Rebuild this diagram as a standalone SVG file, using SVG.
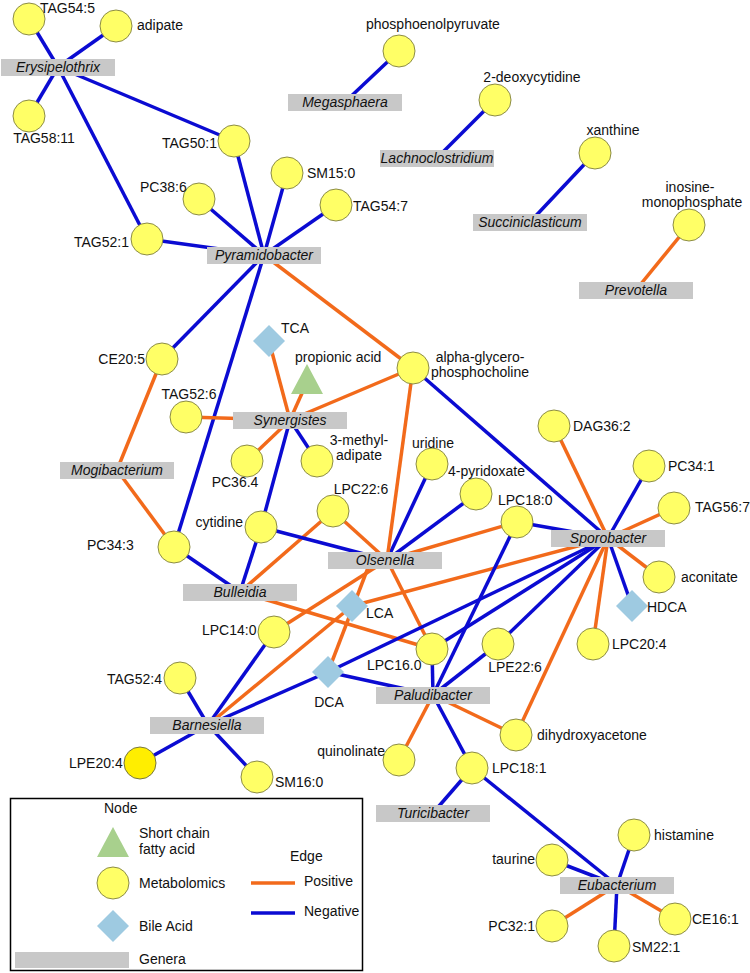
<svg xmlns="http://www.w3.org/2000/svg" width="750" height="973" viewBox="0 0 750 973">
<style>
text{font-family:"Liberation Sans",Arial,sans-serif;font-size:14px;fill:#111}
.gl{font-style:italic;text-anchor:middle}
.m{text-anchor:middle}
.e{text-anchor:end}
.met{fill:#ffff66;stroke:#8c8c46;stroke-width:1}
.met2{fill:#ffee00;stroke:#777740;stroke-width:1}
.ba{fill:#9ecae1}
.sc{fill:#a8d08d}
.gen{fill:#c8c8c8}
#edges line,#legend line{stroke-width:3.5}
.pos{stroke:#f26a1b}
.neg{stroke:#0b0bd2}
</style>
<rect width="750" height="973" fill="#fff"/>
<g id="edges">
<line class="neg" x1="58" y1="67" x2="29" y2="19"/>
<line class="neg" x1="58" y1="67" x2="116" y2="26"/>
<line class="neg" x1="58" y1="67" x2="29" y2="116"/>
<line class="neg" x1="58" y1="67" x2="234" y2="141"/>
<line class="neg" x1="58" y1="67" x2="147" y2="239"/>
<line class="neg" x1="264" y1="255" x2="234" y2="141"/>
<line class="neg" x1="264" y1="255" x2="199" y2="199"/>
<line class="neg" x1="264" y1="255" x2="287" y2="173"/>
<line class="neg" x1="264" y1="255" x2="336" y2="205"/>
<line class="neg" x1="264" y1="255" x2="147" y2="239"/>
<line class="neg" x1="264" y1="255" x2="162" y2="359"/>
<line class="neg" x1="264" y1="255" x2="174" y2="547"/>
<line class="pos" x1="264" y1="255" x2="413" y2="368"/>
<line class="neg" x1="345" y1="102" x2="399" y2="51"/>
<line class="neg" x1="437" y1="158" x2="495" y2="100"/>
<line class="neg" x1="530" y1="222" x2="595" y2="153"/>
<line class="pos" x1="636" y1="290" x2="689" y2="225"/>
<line class="pos" x1="117" y1="470" x2="162" y2="359"/>
<line class="pos" x1="117" y1="470" x2="174" y2="547"/>
<line class="pos" x1="290" y1="420" x2="269" y2="341"/>
<line class="pos" x1="290" y1="420" x2="307" y2="382"/>
<line class="pos" x1="290" y1="420" x2="186" y2="417"/>
<line class="pos" x1="290" y1="420" x2="247" y2="461"/>
<line class="pos" x1="290" y1="420" x2="413" y2="368"/>
<line class="neg" x1="290" y1="420" x2="317" y2="461"/>
<line class="neg" x1="290" y1="420" x2="261" y2="527"/>
<line class="neg" x1="240" y1="592" x2="261" y2="527"/>
<line class="neg" x1="240" y1="592" x2="174" y2="547"/>
<line class="pos" x1="240" y1="592" x2="333" y2="511"/>
<line class="pos" x1="240" y1="592" x2="432" y2="649"/>
<line class="neg" x1="387" y1="560" x2="261" y2="527"/>
<line class="neg" x1="387" y1="560" x2="432" y2="464"/>
<line class="neg" x1="387" y1="560" x2="476" y2="494"/>
<line class="pos" x1="387" y1="560" x2="333" y2="511"/>
<line class="pos" x1="387" y1="560" x2="517" y2="522"/>
<line class="pos" x1="387" y1="560" x2="413" y2="368"/>
<line class="pos" x1="387" y1="560" x2="274" y2="632"/>
<line class="pos" x1="387" y1="560" x2="432" y2="649"/>
<line class="pos" x1="371" y1="560" x2="328" y2="672"/>
<line class="neg" x1="608" y1="538" x2="413" y2="368"/>
<line class="neg" x1="608" y1="538" x2="649" y2="466"/>
<line class="neg" x1="608" y1="538" x2="632" y2="606"/>
<line class="neg" x1="608" y1="538" x2="498" y2="644"/>
<line class="neg" x1="608" y1="538" x2="432" y2="649"/>
<line class="neg" x1="608" y1="538" x2="517" y2="522"/>
<line class="neg" x1="608" y1="538" x2="328" y2="672"/>
<line class="pos" x1="608" y1="538" x2="554" y2="426"/>
<line class="pos" x1="608" y1="538" x2="674" y2="508"/>
<line class="pos" x1="608" y1="538" x2="659" y2="577"/>
<line class="pos" x1="608" y1="538" x2="593" y2="644"/>
<line class="pos" x1="608" y1="538" x2="516" y2="735"/>
<line class="pos" x1="608" y1="538" x2="352" y2="606"/>
<line class="neg" x1="208" y1="725" x2="180" y2="678"/>
<line class="neg" x1="208" y1="725" x2="274" y2="632"/>
<line class="neg" x1="208" y1="725" x2="328" y2="672"/>
<line class="neg" x1="208" y1="725" x2="140" y2="763"/>
<line class="neg" x1="208" y1="725" x2="257" y2="777"/>
<line class="pos" x1="208" y1="725" x2="352" y2="606"/>
<line class="neg" x1="433" y1="695" x2="432" y2="649"/>
<line class="neg" x1="433" y1="695" x2="328" y2="672"/>
<line class="neg" x1="433" y1="695" x2="517" y2="522"/>
<line class="neg" x1="433" y1="695" x2="498" y2="644"/>
<line class="neg" x1="433" y1="695" x2="472" y2="768"/>
<line class="pos" x1="433" y1="695" x2="399" y2="760"/>
<line class="pos" x1="433" y1="695" x2="516" y2="735"/>
<line class="neg" x1="433" y1="813" x2="472" y2="768"/>
<line class="neg" x1="617" y1="885" x2="472" y2="768"/>
<line class="neg" x1="617" y1="885" x2="634" y2="835"/>
<line class="neg" x1="617" y1="885" x2="552" y2="860"/>
<line class="neg" x1="617" y1="885" x2="614" y2="946"/>
<line class="pos" x1="617" y1="885" x2="552" y2="926"/>
<line class="pos" x1="617" y1="885" x2="675" y2="919"/>
</g>
<g id="genera">
<g id="g-erysipelothrix"><rect class="gen" x="1" y="59" width="114" height="17"/><text class="gl" x="58" y="72">Erysipelothrix</text></g>
<g id="g-megasphaera"><rect class="gen" x="288" y="94" width="114" height="17"/><text class="gl" x="345" y="107">Megasphaera</text></g>
<g id="g-lachnoclostridium"><rect class="gen" x="380" y="150" width="114" height="17"/><text class="gl" x="437" y="163">Lachnoclostridium</text></g>
<g id="g-succiniclasticum"><rect class="gen" x="473" y="214" width="114" height="17"/><text class="gl" x="530" y="227">Succiniclasticum</text></g>
<g id="g-pyramidobacter"><rect class="gen" x="207" y="247" width="114" height="17"/><text class="gl" x="264" y="260">Pyramidobacter</text></g>
<g id="g-prevotella"><rect class="gen" x="579" y="282" width="114" height="17"/><text class="gl" x="636" y="295">Prevotella</text></g>
<g id="g-synergistes"><rect class="gen" x="233" y="412" width="114" height="17"/><text class="gl" x="290" y="425">Synergistes</text></g>
<g id="g-mogibacterium"><rect class="gen" x="60" y="462" width="114" height="17"/><text class="gl" x="117" y="475">Mogibacterium</text></g>
<g id="g-olsenella"><rect class="gen" x="328" y="552" width="114" height="17"/><text class="gl" x="385" y="565">Olsenella</text></g>
<g id="g-sporobacter"><rect class="gen" x="551" y="530" width="114" height="17"/><text class="gl" x="608" y="543">Sporobacter</text></g>
<g id="g-bulleidia"><rect class="gen" x="183" y="584" width="114" height="17"/><text class="gl" x="240" y="597">Bulleidia</text></g>
<g id="g-barnesiella"><rect class="gen" x="150" y="717" width="114" height="17"/><text class="gl" x="207" y="730">Barnesiella</text></g>
<g id="g-paludibacter"><rect class="gen" x="376" y="687" width="114" height="17"/><text class="gl" x="433" y="700">Paludibacter</text></g>
<g id="g-turicibacter"><rect class="gen" x="376" y="805" width="114" height="17"/><text class="gl" x="433" y="818">Turicibacter</text></g>
<g id="g-eubacterium"><rect class="gen" x="560" y="877" width="114" height="17"/><text class="gl" x="617" y="890">Eubacterium</text></g>
</g>
<g id="metabolites">
<g id="m-tag54-5"><circle class="met" cx="29" cy="19" r="16"/><text x="40" y="13">TAG54:5</text></g>
<g id="m-adipate"><circle class="met" cx="116" cy="26" r="16"/><text x="137" y="30">adipate</text></g>
<g id="m-tag58-11"><circle class="met" cx="29" cy="116" r="16"/><text class="m" x="44" y="143">TAG58:11</text></g>
<g id="m-tag50-1"><circle class="met" cx="234" cy="141" r="16"/><text class="e" x="217" y="148">TAG50:1</text></g>
<g id="m-sm15-0"><circle class="met" cx="287" cy="173" r="16"/><text x="307" y="178">SM15:0</text></g>
<g id="m-pc38-6"><circle class="met" cx="199" cy="199" r="16"/><text x="140" y="192">PC38:6</text></g>
<g id="m-tag54-7"><circle class="met" cx="336" cy="205" r="16"/><text x="353" y="211">TAG54:7</text></g>
<g id="m-tag52-1"><circle class="met" cx="147" cy="239" r="16"/><text class="e" x="129" y="247">TAG52:1</text></g>
<g id="m-pep"><circle class="met" cx="399" cy="51" r="16"/><text x="366" y="29">phosphoenolpyruvate</text></g>
<g id="m-2dc"><circle class="met" cx="495" cy="100" r="16"/><text class="m" x="532" y="82">2-deoxycytidine</text></g>
<g id="m-xanthine"><circle class="met" cx="595" cy="153" r="16"/><text class="m" x="613" y="135">xanthine</text></g>
<g id="m-imp"><circle class="met" cx="689" cy="225" r="16"/><text class="m" x="690" y="192">inosine-</text><text class="m" x="692" y="207">monophosphate</text></g>
<g id="m-ce20-5"><circle class="met" cx="162" cy="359" r="16"/><text class="e" x="145" y="364">CE20:5</text></g>
<g id="m-agpc"><circle class="met" cx="413" cy="368" r="16"/><text class="m" x="480" y="362">alpha-glycero-</text><text class="m" x="480" y="377">phosphocholine</text></g>
<g id="m-tag52-6"><circle class="met" cx="186" cy="417" r="16"/><text class="m" x="189" y="399">TAG52:6</text></g>
<g id="m-pc36-4"><circle class="met" cx="247" cy="461" r="16"/><text class="m" x="235" y="487">PC36.4</text></g>
<g id="m-3ma"><circle class="met" cx="317" cy="461" r="16"/><text class="m" x="359" y="445">3-methyl-</text><text class="m" x="359" y="460">adipate</text></g>
<g id="m-uridine"><circle class="met" cx="432" cy="464" r="16"/><text class="m" x="433" y="448">uridine</text></g>
<g id="m-4pyr"><circle class="met" cx="476" cy="494" r="16"/><text x="448" y="476">4-pyridoxate</text></g>
<g id="m-lpc18-0"><circle class="met" cx="517" cy="522" r="16"/><text x="498" y="505">LPC18:0</text></g>
<g id="m-dag36-2"><circle class="met" cx="554" cy="426" r="16"/><text x="573" y="431">DAG36:2</text></g>
<g id="m-pc34-1"><circle class="met" cx="649" cy="466" r="16"/><text x="668" y="471">PC34:1</text></g>
<g id="m-tag56-7"><circle class="met" cx="674" cy="508" r="16"/><text x="695" y="512">TAG56:7</text></g>
<g id="m-aconitate"><circle class="met" cx="659" cy="577" r="16"/><text x="681" y="582">aconitate</text></g>
<g id="m-lpc20-4"><circle class="met" cx="593" cy="644" r="16"/><text x="612" y="649">LPC20:4</text></g>
<g id="m-lpc22-6"><circle class="met" cx="333" cy="511" r="16"/><text class="m" x="361" y="494">LPC22:6</text></g>
<g id="m-cytidine"><circle class="met" cx="261" cy="527" r="16"/><text class="e" x="243" y="527">cytidine</text></g>
<g id="m-pc34-3"><circle class="met" cx="174" cy="547" r="16"/><text x="87" y="550">PC34:3</text></g>
<g id="m-lpc14-0"><circle class="met" cx="274" cy="632" r="16"/><text x="202" y="635">LPC14:0</text></g>
<g id="m-lpc16-0"><circle class="met" cx="432" cy="649" r="16"/><text x="367" y="670">LPC16.0</text></g>
<g id="m-lpe22-6"><circle class="met" cx="498" cy="644" r="16"/><text class="m" x="515" y="672">LPE22:6</text></g>
<g id="m-tag52-4"><circle class="met" cx="180" cy="678" r="16"/><text x="107" y="684">TAG52:4</text></g>
<g id="m-quinolinate"><circle class="met" cx="399" cy="760" r="16"/><text class="e" x="385" y="756">quinolinate</text></g>
<g id="m-dha"><circle class="met" cx="516" cy="735" r="16"/><text x="537" y="740">dihydroxyacetone</text></g>
<g id="m-lpc18-1"><circle class="met" cx="472" cy="768" r="16"/><text x="492" y="773">LPC18:1</text></g>
<g id="m-lpe20-4"><circle class="met2" cx="140" cy="763" r="16"/><text x="69" y="768">LPE20:4</text></g>
<g id="m-sm16-0"><circle class="met" cx="257" cy="777" r="16"/><text x="275" y="787">SM16:0</text></g>
<g id="m-histamine"><circle class="met" cx="634" cy="835" r="16"/><text x="654" y="840">histamine</text></g>
<g id="m-taurine"><circle class="met" cx="552" cy="860" r="16"/><text class="e" x="535" y="864">taurine</text></g>
<g id="m-pc32-1"><circle class="met" cx="552" cy="926" r="16"/><text class="e" x="535" y="931">PC32:1</text></g>
<g id="m-sm22-1"><circle class="met" cx="614" cy="946" r="16"/><text x="632" y="952">SM22:1</text></g>
<g id="m-ce16-1"><circle class="met" cx="675" cy="919" r="16"/><text x="692" y="924">CE16:1</text></g>
</g>
<g id="bileacids">
<g id="b-tca"><path class="ba" d="M269,325 L285,341 L269,357 L253,341 Z"/><text x="281" y="333">TCA</text></g>
<g id="b-lca"><path class="ba" d="M352,590 L368,606 L352,622 L336,606 Z"/><text x="366" y="618">LCA</text></g>
<g id="b-dca"><path class="ba" d="M328,656 L344,672 L328,688 L312,672 Z"/><text class="m" x="329" y="707">DCA</text></g>
<g id="b-hdca"><path class="ba" d="M632,590 L648,606 L632,622 L616,606 Z"/><text x="647" y="612">HDCA</text></g>
</g>
<g id="s-propionic"><path class="sc" d="M307,364 L323,394 L291,394 Z"/><text x="295" y="362">propionic acid</text></g>
<g id="legend">
<rect x="10.5" y="798.5" width="352" height="172" fill="none" stroke="#000" stroke-width="1.5"/>
<text x="104" y="813">Node</text>
<path class="sc" d="M113,827 L129,857 L97,857 Z"/>
<text x="139" y="838">Short chain</text>
<text x="139" y="854">fatty acid</text>
<circle class="met" cx="113" cy="883" r="16"/>
<text x="139" y="888">Metabolomics</text>
<path class="ba" d="M113,910 L129,926 L113,942 L97,926 Z"/>
<text x="139" y="931">Bile Acid</text>
<rect class="gen" x="15" y="952" width="114" height="16"/>
<text x="139" y="964">Genera</text>
<text x="290" y="861">Edge</text>
<line class="pos" x1="251" y1="883" x2="295" y2="883"/>
<text x="304" y="886">Positive</text>
<line class="neg" x1="251" y1="913" x2="295" y2="913"/>
<text x="304" y="916">Negative</text>
</g>
</svg>
